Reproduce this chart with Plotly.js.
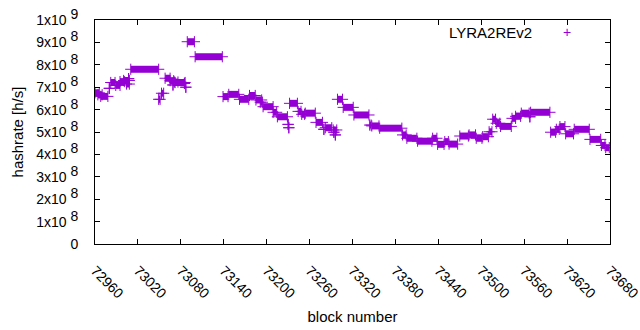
<!DOCTYPE html>
<html>
<head>
<meta charset="utf-8">
<script src="https://cdn.plot.ly/plotly-3.0.1.min.js"></script>
<style>html,body{margin:0;padding:0;background:#fff;}#chart{width:640px;height:330px;}</style>
</head>
<body>
<div id="chart"></div>
<script>
// Runs of blocks sharing the same hashrate value (block number start, end, hashrate h/s)
var runStart = [72960,72964,72968,72980,72982,72989,72995,73000,73004,73007,73010,73049,73053,73058,73065,73069,73071,73072,73085,73087,73089,73100,73139,73147,73162,73176,73185,73191,73195,73209,73215,73230,73231,73232,73244,73249,73254,73269,73280,73282,73293,73294,73296,73299,73307,73322,73344,73347,73358,73390,73396,73411,73432,73439,73449,73455,73470,73483,73493,73502,73511,73516,73521,73527,73543,73548,73556,73568,73569,73597,73605,73610,73618,73630,73652,73668,73674];
var runEnd   = [72966,72970,72978,72980,72988,72995,73001,73008,73008,73007,73049,73051,73056,73065,73070,73069,73076,73086,73085,73087,73099,73138,73146,73161,73175,73184,73193,73194,73209,73214,73229,73230,73231,73243,73248,73253,73268,73278,73280,73291,73298,73294,73296,73306,73321,73343,73346,73357,73389,73395,73410,73431,73438,73448,73454,73467,73482,73492,73501,73510,73515,73520,73526,73542,73548,73555,73567,73568,73596,73604,73609,73617,73629,73651,73667,73673,73679];
var runValue = [6.75e8,6.66e8,6.59e8,6.95e8,7.21e8,7.08e8,7.25e8,7.30e8,7.14e8,7.38e8,7.80e8,6.46e8,6.73e8,7.40e8,7.29e8,7.10e8,7.23e8,7.21e8,7.17e8,7.00e8,9.03e8,8.36e8,6.58e8,6.68e8,6.46e8,6.63e8,6.43e8,6.33e8,6.13e8,5.88e8,5.68e8,5.34e8,5.19e8,6.28e8,5.92e8,5.79e8,5.84e8,5.43e8,5.12e8,5.19e8,5.09e8,4.99e8,4.87e8,6.46e8,6.10e8,5.76e8,5.31e8,5.27e8,5.17e8,4.87e8,4.72e8,4.59e8,4.72e8,4.45e8,4.57e8,4.46e8,4.82e8,4.87e8,4.72e8,4.79e8,5.01e8,5.57e8,5.39e8,5.25e8,5.61e8,5.70e8,5.84e8,5.68e8,5.88e8,4.99e8,5.12e8,5.24e8,4.92e8,5.12e8,4.67e8,4.40e8,4.30e8];

var xTicks = [72960,73020,73080,73140,73200,73260,73320,73380,73440,73500,73560,73620,73680];
var yTicks = [0,1e8,2e8,3e8,4e8,5e8,6e8,7e8,8e8,9e8,1e9];
var yMantissa = ['0','1','2','3','4','5','6','7','8','9','1'];
var yExponent = ['','8','8','8','8','8','8','8','8','8','9'];
var seriesName = 'LYRA2REv2';

var yTickText = yTicks.map(function (v, i) {
  if (!yExponent[i]) return yMantissa[i];
  return yMantissa[i] + 'x10 <sup><span style="font-size:14px">' + yExponent[i] + '</span></sup>';
});

var color = '#9400D3';
var xs = [], ys = [];
for (var i = 0; i < runStart.length; i++) {
  xs.push(runStart[i], runEnd[i], null);
  ys.push(runValue[i], runValue[i], null);
}

var trace = {
  x: xs, y: ys, type: 'scatter', mode: 'lines+markers',
  connectgaps: false, showlegend: false, name: seriesName,
  line: {color: color, width: 7},
  marker: {symbol: 'cross-thin', size: 8, color: color, line: {color: color, width: 1}},
  cliponaxis: true
};

var font = 'Liberation Sans, Arial, sans-serif';
var layout = {
  width: 640, height: 330,
  margin: {l: 95, r: 30, t: 20, b: 86},
  paper_bgcolor: '#fff', plot_bgcolor: '#fff',
  showlegend: false,
  font: {family: font, color: '#000', size: 14},
  xaxis: {
    range: [72960, 73680], tickvals: xTicks, ticktext: xTicks.map(String),
    tickangle: 45, ticks: 'inside', ticklen: 5, tickcolor: '#000',
    showline: true, linecolor: '#000', linewidth: 1, mirror: 'ticks',
    showgrid: false, zeroline: false, tickfont: {size: 14}, ticklabelstandoff: 12,
    ticklabeloverflow: 'allow',
    title: {text: 'block number', font: {size: 15}, standoff: 10}
  },
  yaxis: {
    range: [0, 1e9], tickvals: yTicks, ticktext: yTickText,
    ticks: 'inside', ticklen: 5, tickcolor: '#000',
    showline: true, linecolor: '#000', linewidth: 1, mirror: 'ticks',
    showgrid: false, zeroline: false, tickfont: {size: 14}, ticklabelstandoff: 13,
    ticklabeloverflow: 'allow',
    title: {text: 'hashrate [h/s]', font: {size: 15}, standoff: 8}
  },
  annotations: [
    {xref: 'paper', yref: 'paper', x: (534-95)/515, y: (244-32)/224, xanchor: 'right', yanchor: 'middle',
     text: seriesName, showarrow: false, font: {size: 15, color: '#000'}},
    {xref: 'paper', yref: 'paper', x: (567-95)/515, y: (244-32)/224, xanchor: 'center', yanchor: 'middle',
     text: '+', showarrow: false, font: {size: 14, color: color}}
  ]
};

Plotly.newPlot('chart', [trace], layout, {staticPlot: true, displayModeBar: false});
</script>
</body>
</html>
